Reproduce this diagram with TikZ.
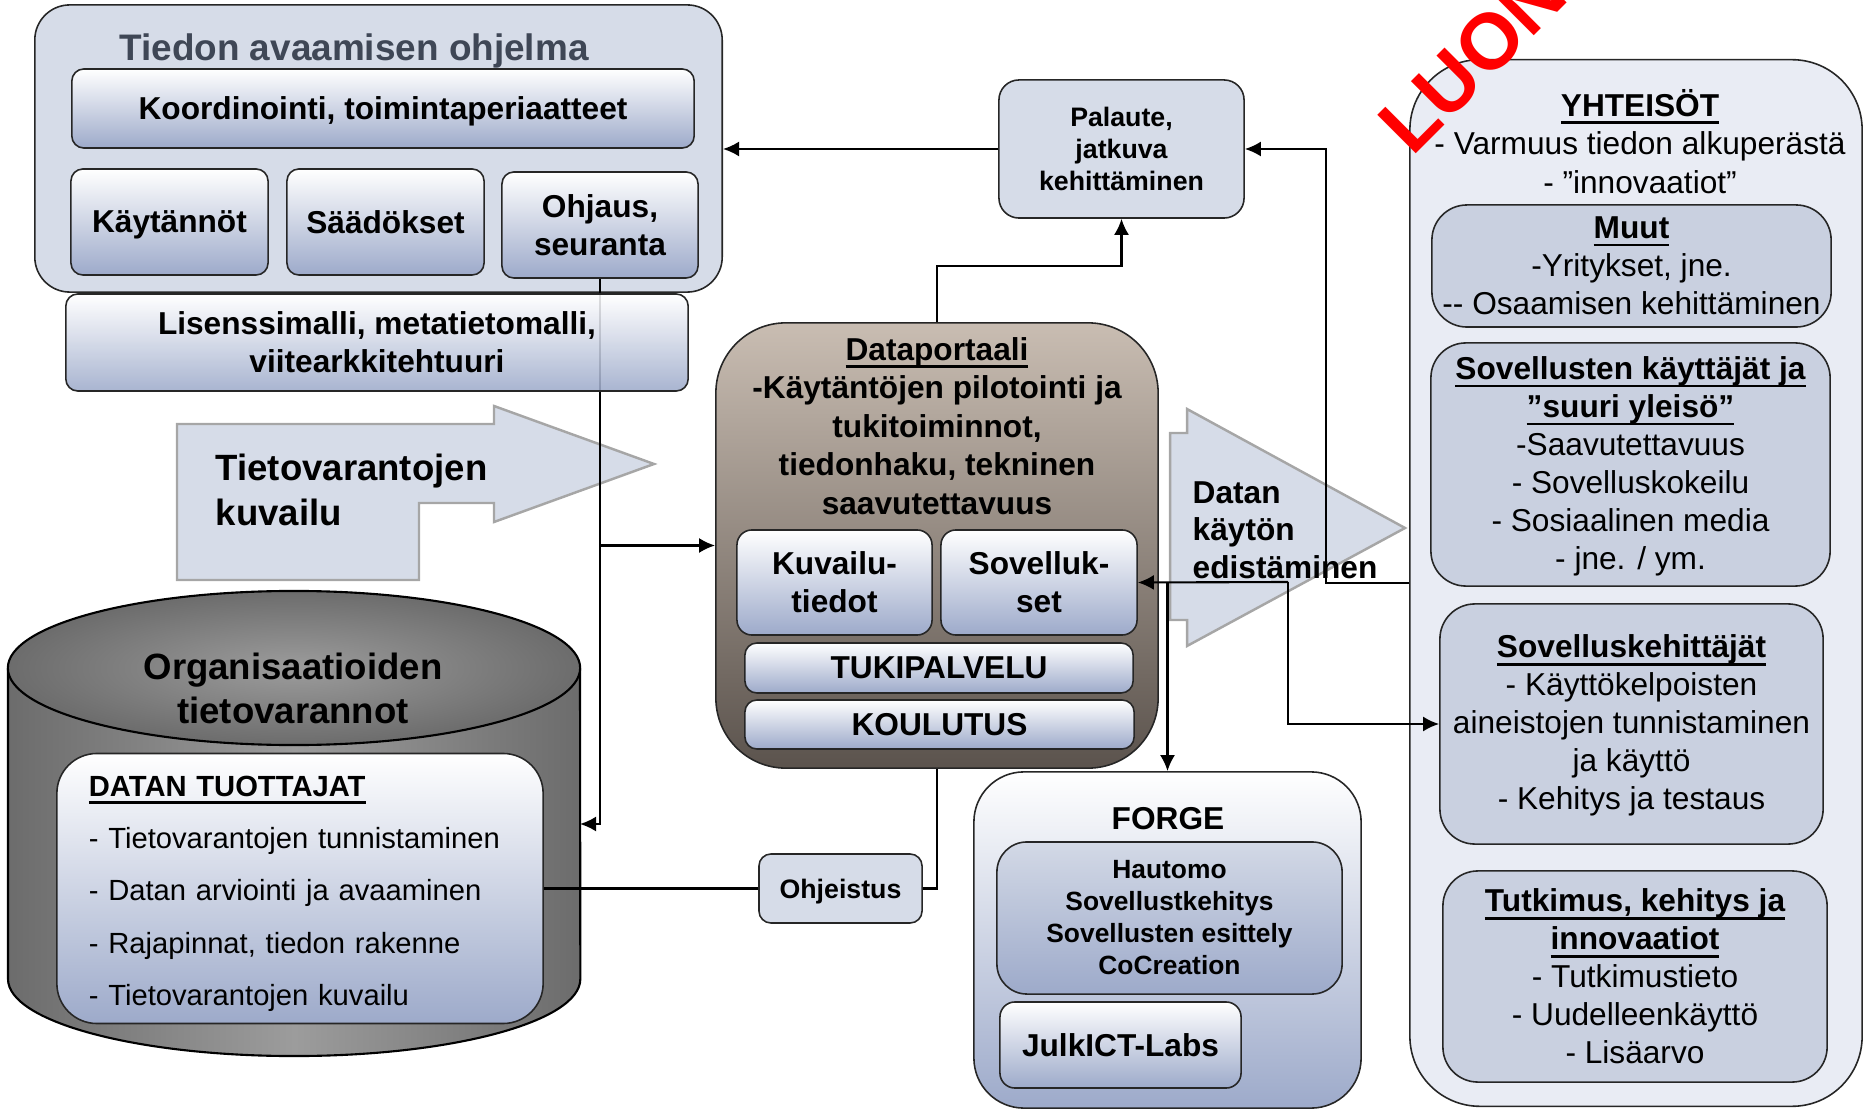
\documentclass[tikz,border=0pt]{standalone}
\usepackage{fontspec}
\setmainfont{Liberation Sans}
\usetikzlibrary{arrows.meta}
\definecolor{ohjfill}{HTML}{D6DCE8}
\definecolor{gradblue}{HTML}{9DAACA}
\definecolor{hautop}{HTML}{D3D9E6}
\definecolor{portaltop}{HTML}{C9BDB2}
\definecolor{portalbot}{HTML}{5B534D}
\definecolor{yhtfill}{HTML}{E9ECF4}
\definecolor{yhtinner}{HTML}{C9D0E0}
\definecolor{titlegray}{HTML}{3F4756}
\definecolor{shapeline}{HTML}{A6A6A6}
\definecolor{cyldark}{HTML}{6C6C6C}
\definecolor{cyllight}{HTML}{9C9C9C}
\newcommand\fsz[2]{\fontsize{#1}{#2}\selectfont}
\newsavebox\ulbox
\newcommand\ulnd[1]{\sbox\ulbox{#1}\rlap{\rule[-2.2pt]{\wd\ulbox}{0.75pt}}\usebox\ulbox}

\begin{document}
\begin{tikzpicture}[x=0.01cm, y=-0.01cm,
  box/.style={draw=black!85, line width=0.45pt, rounded corners=#1},
  box/.default=1.2mm,
  gbox/.style={box=#1, top color=white, bottom color=gradblue},
  gbox/.default=1.2mm,
  lbox/.style={box=#1, fill=ohjfill},
  lbox/.default=2mm,
  ybox/.style={box=#1, fill=yhtinner, inner sep=1pt},
  ybox/.default=3.5mm,
  fat/.style={fill=ohjfill, draw=shapeline, line width=0.7pt},
  arr/.style={-{Latex[length=1.6mm,width=1.5mm]}, line width=0.6pt},
  conn/.style={line width=0.6pt},
  one/.style={text depth=0pt},
  bf/.style={font=\bfseries\fsz{9}{10.8}, align=center},
  rg/.style={font=\fsz{9}{10.8}, align=center}]
 \useasboundingbox (0,0) rectangle (1864,1110);
 \clip (0,0) rectangle (1864,1110);

 % ohjelma
 \node[lbox=3.5mm, minimum width=6.87cm, minimum height=2.87cm] (ohjelma) at (378.5,148.5) {};
 \node[font=\bfseries\fsz{10.5}{12}, text=titlegray, one] (ohjtitle) at (354,47) {Tiedon avaamisen ohjelma};
 \node[gbox, bf, one, minimum width=6.22cm, minimum height=0.79cm] (koord) at (383,108.5) {Koordinointi, toimintaperiaatteet};
 \node[gbox, bf, one, minimum width=1.97cm, minimum height=1.06cm] (kaytannot) at (169.5,222) {Käytännöt};
 \node[gbox, bf, one, minimum width=1.97cm, minimum height=1.06cm] (saadokset) at (385.5,222) {Säädökset};
 \node[gbox, bf, minimum width=1.96cm, minimum height=1.06cm] (ohjaus) at (600,225) {Ohjaus,\\seuranta};

 \node[lbox, font=\bfseries\fsz{7.6}{9.1}, align=center, minimum width=2.45cm, minimum height=1.38cm] (palaute) at (1121.5,149) {Palaute,\\jatkuva\\kehittäminen};

 % dataportaali
 \node[box=7mm, top color=portaltop, bottom color=portalbot, minimum width=4.42cm, minimum height=4.45cm] (portaali) at (937,545.5) {};
 \node[bf, font=\bfseries\fsz{9}{10.95}] (portext) at (937,426) {\ulnd{Dataportaali}\\-Käytäntöjen pilotointi ja\\tukitoiminnot,\\tiedonhaku, tekninen\\saavutettavuus};
 \node[gbox=1.5mm, bf, minimum width=1.95cm, minimum height=1.05cm] (kuvailu) at (834.5,582.5) {Kuvailu-\\tiedot};
 \node[gbox=1.5mm, bf, minimum width=1.96cm, minimum height=1.05cm] (sovellukset) at (1039,582.5) {Sovelluk-\\set};
 \node[gbox, bf, one, minimum width=3.88cm, minimum height=0.5cm] (tuki) at (939,668) {TUKIPALVELU};
 \node[gbox, bf, one, minimum width=3.89cm, minimum height=0.49cm] (koulutus) at (939.5,724.5) {KOULUTUS};

 % isot nuolet
 \filldraw[fat] (177,424) -- (494,424) -- (494,406) -- (654,464) -- (494,522) -- (494,503) -- (419,503) -- (419,580) -- (177,580) -- cycle;
 \node[anchor=west, inner sep=0, align=left, font=\bfseries\fsz{10.4}{12.8}] (tvkuvailu) at (215,489.5) {Tietovarantojen\\kuvailu};
 \filldraw[fat] (1170,433) -- (1187,433) -- (1187,409) -- (1405,528) -- (1187,646) -- (1187,620) -- (1170,620) -- cycle;
 \node[anchor=west, inner sep=0, align=left, font=\bfseries\fsz{9}{10.7}] (kaytto) at (1192,530) {Datan\\käytön\\edistäminen};

 % tietovarannot
 \shade[left color=cyldark, right color=cyldark, middle color=cyllight] (8,668) -- (8,979) arc[start angle=180, end angle=360, x radius=2.86cm, y radius=0.77cm] -- (580,668) -- cycle;
 \draw[line width=0.6pt] (8,668) -- (8,979) arc[start angle=180, end angle=360, x radius=2.86cm, y radius=0.77cm] -- (580,668);
 \shade[inner color=cyllight, outer color=cyldark] (294,668) ellipse[x radius=2.86cm, y radius=0.77cm];
 \draw[line width=0.6pt] (294,668) ellipse[x radius=2.86cm, y radius=0.77cm];
 \coordinate (cylright) at (580,824);
 \node[font=\bfseries\fsz{10.4}{12.5}, align=center] (orgtitle) at (293,688) {Organisaatioiden\\tietovarannot};
 \node[box=4mm, top color=white, bottom color=gradblue, minimum width=4.86cm, minimum height=2.67cm, text width=4.22cm, inner xsep=0.32cm, align=left, font=\fsz{8.3}{14.9}] (tuottajat) at (300,888.5) {\rule{0pt}{8.8pt}\textbf{\ulnd{DATAN TUOTTAJAT}}\\- Tietovarantojen tunnistaminen\\- Datan arviointi ja avaaminen\\- Rajapinnat, tiedon rakenne\\- Tietovarantojen kuvailu};
 \node[lbox=1.2mm, one, font=\bfseries\fsz{7.6}{9}, minimum width=1.63cm, minimum height=0.69cm] (ohjeistus) at (840.5,888.5) {Ohjeistus};

 % forge
 \node[box=5mm, top color=white, bottom color=gradblue, minimum width=3.87cm, minimum height=3.36cm] (forge) at (1167.5,940) {};
 \node[bf, one] (forgetitle) at (1168,818) {FORGE};
 \node[box=3mm, top color=hautop, bottom color=gradblue, font=\bfseries\fsz{7.5}{9.1}, align=center, minimum width=3.45cm, minimum height=1.52cm] (hautomo) at (1169.5,918) {Hautomo\\Sovellustkehitys\\Sovellusten esittely\\CoCreation};
 \node[gbox=1.5mm, bf, one, minimum width=2.41cm, minimum height=0.86cm] (julkict) at (1120.5,1045) {JulkICT-Labs};

 % yhteisot
 \node[box=7mm, fill=yhtfill, minimum width=4.52cm, minimum height=10.46cm] (yhteisot) at (1636,583) {};
 \node[rg, font=\fsz{9}{10.95}] (yhttext) at (1640,141.5) {\textbf{\ulnd{YHTEISÖT}}\\- Varmuus tiedon alkuperästä\\- ”innovaatiot”};
 \node[ybox, rg, minimum width=3.99cm, minimum height=1.22cm] (muut) at (1631.5,266) {\textbf{\ulnd{Muut}}\\-Yritykset, jne.\\-{}- Osaamisen kehittäminen};
 \node[ybox, rg, minimum width=3.99cm, minimum height=2.43cm] (sovkayttajat) at (1630.5,464.5) {\rule{0pt}{7.5pt}\textbf{\ulnd{Sovellusten käyttäjät ja}}\\\textbf{\ulnd{”suuri yleisö”}}\\-Saavutettavuus\\- Sovelluskokeilu\\- Sosiaalinen media\\- jne. / ym.};
 \node[ybox, rg, minimum width=3.83cm, minimum height=2.4cm] (sovkehittajat) at (1631.5,724) {\rule{0pt}{7.5pt}\textbf{\ulnd{Sovelluskehittäjät}}\\- Käyttökelpoisten\\aineistojen tunnistaminen\\ja käyttö\\- Kehitys ja testaus};
 \node[ybox, rg, minimum width=3.84cm, minimum height=2.11cm] (tutkimus) at (1635,976.5) {\textbf{\ulnd{Tutkimus, kehitys ja}}\\\textbf{\ulnd{innovaatiot}}\\- Tutkimustieto\\- Uudelleenkäyttö\\- Lisäarvo};

 % yhteydet
 \draw[arr] (palaute.west) -- (palaute.west -| ohjelma.east);
 \draw[arr] (portaali.north) -- ++(0,-56) -| (palaute.south);
 \draw[arr] (yhteisot.west) -- ++(-83,0) |- (palaute.east);
 \draw[arr] (ohjaus.south) |- (cylright);
 \draw[arr] (ohjaus.south |- portaali.west) -- (portaali.west);
 \draw[conn] (portaali.south) |- (ohjeistus.east);
 \draw[conn] (ohjeistus.west) -- (tuottajat.east);
 \coordinate (haara) at (1288,582);
 \draw[arr] (haara) -- (sovellukset.east);
 \draw[arr] (haara) |- (sovkehittajat.west);
 \draw[arr] (sovellukset.east -| forge.north) -- (forge.north);

 % lisenssi over the line
 \node[gbox, bf, fill opacity=0.88, text opacity=1, minimum width=6.22cm, minimum height=0.97cm] (lisenssi) at (377,342.5) {Lisenssimalli, metatietomalli,\\viitearkkitehtuuri};

 \node[anchor=base west, rotate=45, text=red, font=\bfseries\fsz{22.5}{24}, inner sep=0] (luonnos) at (1412,158) {LUONNOS};
\end{tikzpicture}
\end{document}
